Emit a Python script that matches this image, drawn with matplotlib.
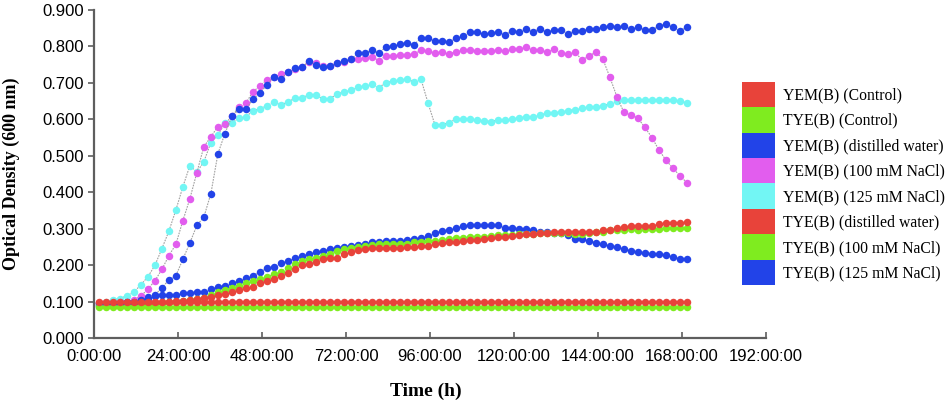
import numpy as np
import matplotlib
matplotlib.use('Agg')
import matplotlib.pyplot as plt
from matplotlib.patches import Patch
from matplotlib.ticker import FuncFormatter

# sampling every 2 h
hours = np.arange(85) * 2 + 1.4

yem_control = [0.098, 0.098, 0.098, 0.098, 0.099, 0.099, 0.100, 0.100, 0.100, 0.100,
               0.100, 0.100, 0.100, 0.100, 0.100, 0.100, 0.100, 0.100, 0.100, 0.100,
               0.100, 0.100, 0.100, 0.100, 0.100, 0.100, 0.100, 0.100, 0.100, 0.100,
               0.100, 0.100, 0.100, 0.100, 0.100, 0.100, 0.100, 0.100, 0.100, 0.100,
               0.100, 0.100, 0.100, 0.100, 0.100, 0.100, 0.100, 0.100, 0.100, 0.100,
               0.100, 0.100, 0.100, 0.100, 0.100, 0.100, 0.100, 0.100, 0.100, 0.100,
               0.100, 0.100, 0.100, 0.100, 0.100, 0.100, 0.100, 0.100, 0.100, 0.100,
               0.100, 0.100, 0.100, 0.100, 0.100, 0.100, 0.100, 0.100, 0.100, 0.100,
               0.100, 0.100, 0.100, 0.100, 0.100]

tye_control = [0.085, 0.085, 0.085, 0.085, 0.085, 0.085, 0.085, 0.085, 0.085, 0.085,
               0.085, 0.085, 0.085, 0.085, 0.085, 0.085, 0.085, 0.085, 0.085, 0.085,
               0.085, 0.085, 0.085, 0.085, 0.085, 0.085, 0.085, 0.085, 0.085, 0.085,
               0.085, 0.085, 0.085, 0.085, 0.085, 0.085, 0.085, 0.085, 0.085, 0.085,
               0.085, 0.085, 0.085, 0.085, 0.085, 0.085, 0.085, 0.085, 0.085, 0.085,
               0.085, 0.085, 0.085, 0.085, 0.085, 0.085, 0.085, 0.085, 0.085, 0.085,
               0.085, 0.085, 0.085, 0.085, 0.085, 0.085, 0.085, 0.085, 0.085, 0.085,
               0.085, 0.085, 0.085, 0.085, 0.085, 0.085, 0.085, 0.085, 0.085, 0.085,
               0.085, 0.085, 0.085, 0.085, 0.085]

yem_dw = [0.095, 0.095, 0.096, 0.097, 0.098, 0.100, 0.103, 0.110, 0.118, 0.138,
          0.159, 0.171, 0.216, 0.261, 0.309, 0.332, 0.396, 0.505, 0.561, 0.608,
          0.627, 0.627, 0.655, 0.672, 0.694, 0.717, 0.710, 0.730, 0.740, 0.743,
          0.759, 0.750, 0.743, 0.745, 0.754, 0.759, 0.765, 0.781, 0.781, 0.790,
          0.781, 0.799, 0.801, 0.807, 0.810, 0.805, 0.822, 0.822, 0.816, 0.816,
          0.812, 0.822, 0.829, 0.839, 0.839, 0.833, 0.836, 0.839, 0.832, 0.843,
          0.840, 0.849, 0.840, 0.849, 0.839, 0.846, 0.846, 0.835, 0.842, 0.842,
          0.848, 0.848, 0.852, 0.855, 0.852, 0.855, 0.847, 0.852, 0.845, 0.845,
          0.856, 0.862, 0.852, 0.843, 0.854]

yem_100 = [0.095, 0.095, 0.096, 0.098, 0.100, 0.105, 0.115, 0.134, 0.157, 0.188,
           0.226, 0.257, 0.322, 0.382, 0.454, 0.525, 0.552, 0.580, 0.587, 0.609,
           0.634, 0.645, 0.675, 0.692, 0.708, 0.717, 0.723, 0.730, 0.737, 0.743,
           0.757, 0.754, 0.745, 0.746, 0.754, 0.758, 0.765, 0.765, 0.767, 0.772,
           0.761, 0.774, 0.774, 0.776, 0.776, 0.779, 0.789, 0.788, 0.781, 0.786,
           0.778, 0.786, 0.789, 0.790, 0.788, 0.788, 0.788, 0.790, 0.788, 0.793,
           0.793, 0.799, 0.790, 0.790, 0.784, 0.794, 0.783, 0.778, 0.785, 0.763,
           0.774, 0.784, 0.765, 0.715, 0.662, 0.619, 0.612, 0.603, 0.578, 0.550,
           0.516, 0.488, 0.466, 0.445, 0.426]

yem_125 = [0.097, 0.099, 0.105, 0.108, 0.116, 0.126, 0.146, 0.168, 0.199, 0.245,
           0.293, 0.351, 0.415, 0.473, 0.455, 0.484, 0.536, 0.557, 0.589, 0.591,
           0.603, 0.607, 0.623, 0.629, 0.637, 0.648, 0.640, 0.647, 0.658, 0.659,
           0.668, 0.668, 0.655, 0.657, 0.669, 0.675, 0.681, 0.688, 0.692, 0.697,
           0.687, 0.701, 0.704, 0.707, 0.710, 0.703, 0.711, 0.646, 0.585, 0.585,
           0.591, 0.601, 0.601, 0.600, 0.598, 0.596, 0.594, 0.598, 0.598, 0.601,
           0.604, 0.607, 0.607, 0.612, 0.616, 0.618, 0.620, 0.624, 0.626, 0.630,
           0.633, 0.635, 0.637, 0.643, 0.649, 0.652, 0.652, 0.654, 0.654, 0.654,
           0.654, 0.654, 0.654, 0.649, 0.646]

tye_dw = [0.097, 0.097, 0.097, 0.098, 0.098, 0.098, 0.099, 0.099, 0.100, 0.100,
          0.100, 0.101, 0.102, 0.104, 0.106, 0.109, 0.113, 0.118, 0.121, 0.125,
          0.131, 0.137, 0.141, 0.150, 0.157, 0.163, 0.170, 0.178, 0.188, 0.199,
          0.204, 0.209, 0.217, 0.219, 0.220, 0.230, 0.237, 0.241, 0.244, 0.246,
          0.246, 0.246, 0.248, 0.248, 0.250, 0.251, 0.253, 0.253, 0.258, 0.261,
          0.263, 0.264, 0.267, 0.268, 0.268, 0.271, 0.274, 0.276, 0.276, 0.280,
          0.282, 0.284, 0.284, 0.287, 0.289, 0.290, 0.292, 0.292, 0.292, 0.292,
          0.292, 0.292, 0.295, 0.296, 0.301, 0.304, 0.307, 0.306, 0.307, 0.308,
          0.312, 0.315, 0.315, 0.315, 0.318]

tye_100 = [0.088, 0.088, 0.088, 0.089, 0.089, 0.090, 0.091, 0.092, 0.094, 0.096,
           0.098, 0.100, 0.102, 0.104, 0.107, 0.111, 0.118, 0.126, 0.132, 0.138,
           0.143, 0.150, 0.156, 0.162, 0.168, 0.175, 0.182, 0.193, 0.202, 0.211,
           0.217, 0.220, 0.226, 0.230, 0.239, 0.244, 0.248, 0.251, 0.253, 0.255,
           0.257, 0.257, 0.257, 0.259, 0.259, 0.263, 0.263, 0.265, 0.267, 0.269,
           0.271, 0.274, 0.275, 0.276, 0.277, 0.278, 0.280, 0.282, 0.283, 0.283,
           0.284, 0.284, 0.285, 0.287, 0.287, 0.287, 0.287, 0.287, 0.285, 0.285,
           0.287, 0.291, 0.292, 0.295, 0.296, 0.296, 0.298, 0.296, 0.298, 0.298,
           0.300, 0.301, 0.301, 0.301, 0.301]

tye_125 = [0.090, 0.090, 0.091, 0.092, 0.093, 0.100, 0.108, 0.112, 0.115, 0.118,
           0.118, 0.118, 0.123, 0.124, 0.127, 0.127, 0.134, 0.141, 0.144, 0.150,
           0.156, 0.164, 0.171, 0.182, 0.191, 0.196, 0.205, 0.211, 0.219, 0.226,
           0.230, 0.235, 0.239, 0.244, 0.248, 0.250, 0.253, 0.255, 0.259, 0.263,
           0.264, 0.266, 0.266, 0.266, 0.268, 0.272, 0.274, 0.280, 0.288, 0.294,
           0.296, 0.302, 0.306, 0.309, 0.309, 0.309, 0.309, 0.309, 0.303, 0.301,
           0.300, 0.298, 0.295, 0.290, 0.292, 0.287, 0.287, 0.282, 0.273, 0.273,
           0.267, 0.262, 0.258, 0.252, 0.249, 0.243, 0.240, 0.237, 0.234, 0.231,
           0.231, 0.227, 0.223, 0.218, 0.218]

labels = ['YEM(B) (Control)', 'TYE(B) (Control)', 'YEM(B) (distilled water)',
          'YEM(B) (100 mM NaCl)', 'YEM(B) (125 mM NaCl)', 'TYE(B) (distilled water)',
          'TYE(B) (100 mM NaCl)', 'TYE(B) (125 mM NaCl)']
series = [yem_control, tye_control, yem_dw, yem_100, yem_125, tye_dw, tye_100, tye_125]

red = '#E8433A'
green = '#7FEC1F'
blue = '#2243E8'
magenta = '#E25DEE'
cyan = '#72F6F4'
colors = [red, green, blue, magenta, cyan, red, green, blue]

fig = plt.figure(figsize=(9.51, 4.07), dpi=100)
ax = fig.add_axes([0.0988, 0.1695, 0.7067, 0.806])

# first series drawn on top, like the original
for k in range(len(series)):
    ax.plot(hours, series[k], color='#a0a0a0', lw=0.8, ls=(0, (1.5, 1)),
            marker='o', ms=5.4, mfc=colors[k], mec='none', zorder=20 - k)

ax.set_xlim(0, 192)
ax.set_ylim(0, 0.9)
ax.set_xticks(np.arange(0, 193, 24))
ax.set_yticks(np.arange(0, 0.91, 0.1))
ax.xaxis.set_major_formatter(FuncFormatter(lambda v, p: '%d:00:00' % int(round(v))))
ax.yaxis.set_major_formatter(FuncFormatter(lambda v, p: '%.3f' % v))

for s in ['top', 'right']:
    ax.spines[s].set_visible(False)
for s in ['left', 'bottom']:
    ax.spines[s].set_color('#5e5e5e')
    ax.spines[s].set_linewidth(1.6)

ax.tick_params(axis='y', direction='out', length=4, width=1.2, color='#5e5e5e',
               labelsize=12, pad=3)
ax.tick_params(axis='x', direction='in', length=4, width=1.2, color='#5e5e5e',
               labelsize=12, pad=8)
for t in ax.get_xticklabels() + ax.get_yticklabels():
    t.set_fontfamily('Liberation Sans')

fig.text(0.448, 0.018, 'Time (h)', ha='center', va='bottom', fontsize=14,
         fontweight='bold', family='Liberation Serif')
fig.text(0.0115, 0.572, 'Optical Density (600 nm)', ha='center', va='center',
         rotation=90, fontsize=13, fontweight='bold', family='Liberation Serif')

handles = [Patch(facecolor=c, edgecolor='none') for c in colors]
fig.legend(handles, labels, loc='upper left', bbox_to_anchor=(0.780, 0.7995),
           frameon=False, borderpad=0, borderaxespad=0, labelspacing=0,
           handlelength=2.1, handleheight=2.12, handletextpad=0.55,
           prop={'family': 'Liberation Serif', 'size': 11.3})

fig.savefig('out.png', dpi=100)
